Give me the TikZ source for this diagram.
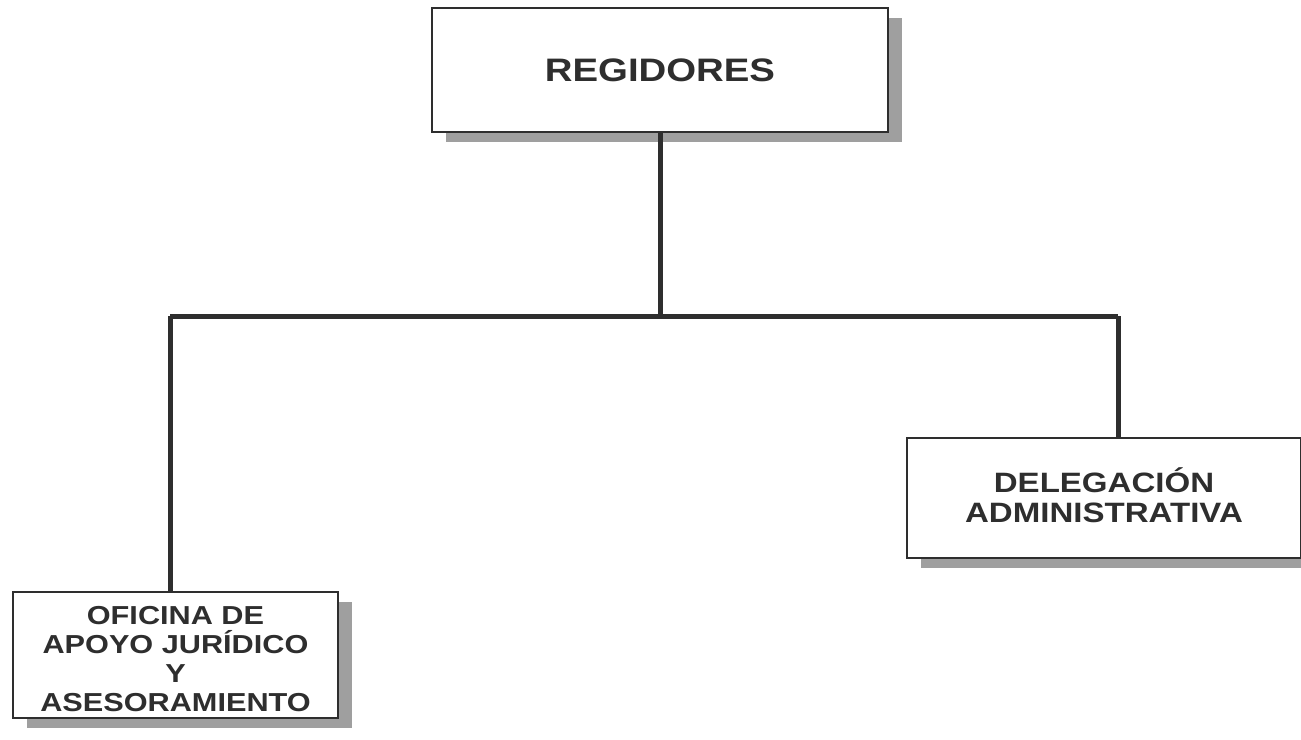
\documentclass[tikz,border=0pt]{standalone}
\usepackage{fontspec}
\setmainfont{Liberation Sans}
\newfontfamily\widesans[FakeStretch=1.18]{Liberation Sans}
\usetikzlibrary{shadows}
\definecolor{ink}{HTML}{2E2E2E}
\tikzset{
  orgbox/.style={draw=ink, line width=1.8pt, fill=white, text=ink, align=center,
    inner sep=0pt,
    drop shadow={shadow xshift=14pt, shadow yshift=-10pt, fill=gray!75, opacity=1}},
  conn/.style={draw=ink, line width=5pt}
}
\begin{document}
\begin{tikzpicture}[x=1pt,y=-1pt]
\useasboundingbox (0,0) rectangle (1301,739);
\fill[white] (0,0) rectangle (1301,739);
\coordinate (j) at (660,316);
\coordinate (lc) at (170,316);
\coordinate (rc) at (1118,316);
\draw[conn] (lc) -- (rc);
\draw[conn] (lc) -- (170,592);
\draw[conn] (rc) -- (1118,438);
\node[orgbox, minimum width=456pt, minimum height=124pt, font=\widesans\fontsize{32.5}{35}\selectfont\bfseries] (top) at (660,70) {REGIDORES};
\draw[conn] (top.south) -- (j);
\node[orgbox, minimum width=394pt, minimum height=120pt, font=\widesans\fontsize{28}{30}\selectfont\bfseries] (rb) at (1104,498) {DELEGACIÓN\\ADMINISTRATIVA\vphantom{g}};
\node[orgbox, minimum width=325pt, minimum height=126pt, font=\widesans\fontsize{26}{29}\selectfont\bfseries] (lb) at (175.5,655) {\\[-2pt]OFICINA DE\\APOYO JURÍDICO\\Y\\ASESORAMIENTO};
\end{tikzpicture}
\end{document}
